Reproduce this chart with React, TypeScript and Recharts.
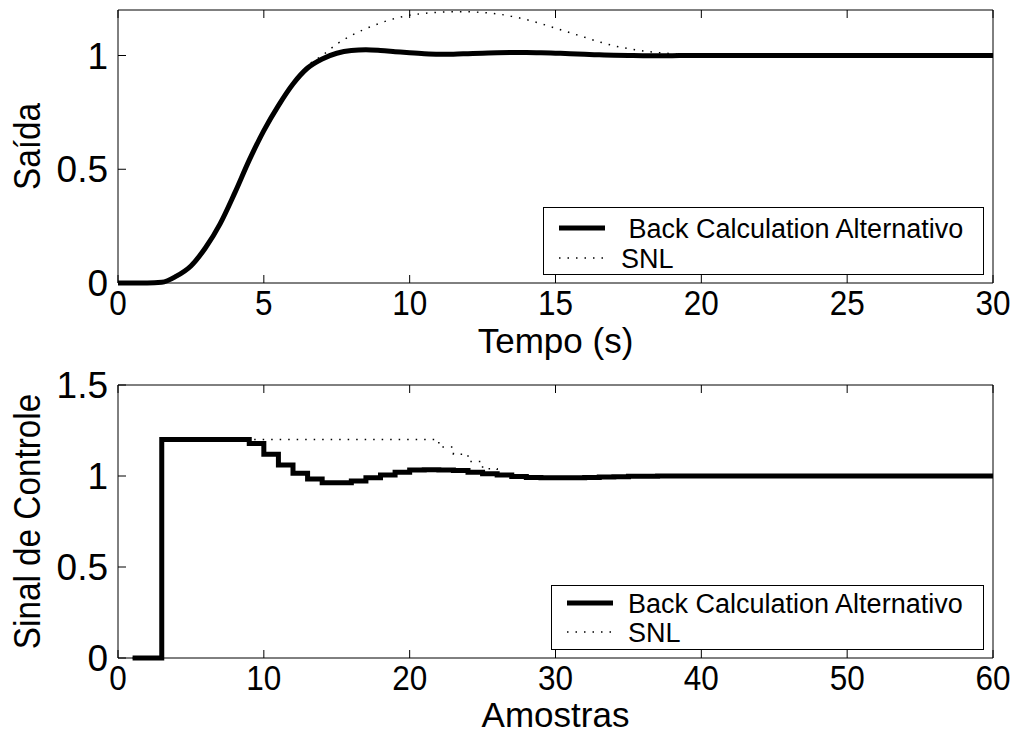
import React from "react";
import { LineChart, Line, XAxis, YAxis, Label } from "recharts";

// top plot: output vs time (s)
const tempo = [
  0, 1, 1.5, 2, 2.5, 3, 3.5, 4, 4.5, 5, 5.5, 6, 6.5, 7, 7.5, 8, 8.5, 9, 9.5,
  10, 10.5, 11, 11.5, 12, 12.5, 13, 13.5, 14, 14.5, 15, 15.5, 16, 16.5, 17,
  17.5, 18, 18.5, 19, 19.5, 20, 21, 22, 24, 26, 28, 30,
];
const saidaBackCalc = [
  0, 0, 0.003, 0.03, 0.075, 0.155, 0.26, 0.395, 0.54, 0.67, 0.78, 0.875,
  0.945, 0.985, 1.01, 1.022, 1.025, 1.022, 1.017, 1.012, 1.008, 1.006, 1.006,
  1.008, 1.01, 1.012, 1.013, 1.013, 1.012, 1.01, 1.008, 1.005, 1.003, 1.001,
  1.0, 0.999, 0.999, 0.999, 1.0, 1.0, 1.0, 1.0, 1.0, 1.0, 1.0, 1.0,
];
const saidaSNL = [
  0, 0, 0.003, 0.03, 0.075, 0.155, 0.26, 0.395, 0.54, 0.67, 0.78, 0.875,
  0.955, 1.0, 1.05, 1.088, 1.118, 1.143, 1.163, 1.177, 1.185, 1.19, 1.192,
  1.192, 1.189, 1.183, 1.172, 1.158, 1.14, 1.12, 1.1, 1.08, 1.06, 1.043, 1.03,
  1.02, 1.013, 1.008, 1.005, 1.003, 1.001, 1.0, 1.0, 1.0, 1.0, 1.0,
];

// bottom plot: control signal vs samples
const amostras = [
  1, 2, 3, 4, 5, 6, 7, 8, 9, 10, 11, 12, 13, 14, 15, 16, 17, 18, 19, 20, 21,
  22, 23, 24, 25, 26, 27, 28, 29, 30, 31, 32, 33, 34, 35, 36, 37, 38, 39, 40,
  41, 42, 43, 44, 45, 46, 47, 48, 49, 50, 51, 52, 53, 54, 55, 56, 57, 58, 59,
  60,
];
const controleBackCalc = [
  0, 0, 1.2, 1.2, 1.2, 1.2, 1.2, 1.2, 1.178, 1.12, 1.06, 1.015, 0.983, 0.963,
  0.963, 0.972, 0.99, 1.005, 1.02, 1.033, 1.035, 1.033, 1.03, 1.02, 1.012,
  1.005, 0.997, 0.992, 0.99, 0.99, 0.99, 0.992, 0.994, 0.996, 0.998, 0.999,
  1, 1, 1, 1, 1, 1, 1, 1, 1, 1, 1, 1, 1, 1, 1, 1, 1, 1, 1, 1, 1, 1, 1, 1,
];
const controleSNL = [
  0, 0, 1.2, 1.2, 1.2, 1.2, 1.2, 1.2, 1.2, 1.2, 1.2, 1.2, 1.2, 1.2, 1.2, 1.2,
  1.2, 1.2, 1.2, 1.2, 1.2, 1.16, 1.12, 1.08, 1.04, 1.01, 0.99, 0.985, 0.983,
  0.983, 0.987, 0.992, 0.996, 0.998, 1, 1, 1, 1, 1, 1, 1, 1, 1, 1, 1, 1, 1, 1,
  1, 1, 1, 1, 1, 1, 1, 1, 1, 1, 1, 1,
];

const topXTicks = [0, 5, 10, 15, 20, 25, 30];
const topYTicks = [0, 0.5, 1];
const bottomXTicks = [0, 10, 20, 30, 40, 50, 60];
const bottomYTicks = [0, 0.5, 1, 1.5];

const FONT = "Liberation Sans, Arial, Helvetica, sans-serif";
const TICK = 8;
const DOTS = "1.5 7";

const topData = tempo.map((t, i) => ({
  t,
  bc: saidaBackCalc[i],
  snl: saidaSNL[i],
}));
const bottomData = amostras.map((k, i) => ({
  k,
  bc: controleBackCalc[i],
  snl: controleSNL[i],
}));

const BottomTick = ({ x, y, payload }: any) => (
  <g>
    <line x1={x} y1={y} x2={x} y2={y - TICK} stroke="#000" strokeWidth={1} />
    <text
      transform={`translate(${x}, ${y + 32}) scale(0.9, 1)`}
      textAnchor="middle"
      fontSize={35}
      fontFamily={FONT}
      fill="#000"
    >
      {payload.value}
    </text>
  </g>
);

const TopTick = ({ x, y }: any) => (
  <line x1={x} y1={y} x2={x} y2={y + TICK} stroke="#000" strokeWidth={1} />
);

const LeftTick = ({ x, y, payload }: any) => (
  <g>
    <line x1={x} y1={y} x2={x + TICK} y2={y} stroke="#000" strokeWidth={1} />
    <text x={x - 10} y={y + 13} textAnchor="end" fontSize={37} fontFamily={FONT} fill="#000">
      {payload.value}
    </text>
  </g>
);

const RightTick = ({ x, y }: any) => (
  <line x1={x} y1={y} x2={x - TICK} y2={y} stroke="#000" strokeWidth={1} />
);

const yLabel = (text: string) => (props: any) => {
  const vb = props.viewBox;
  const cy = vb.y + vb.height / 2;
  return (
    <text
      transform={`translate(40, ${cy}) rotate(-90) scale(0.9, 1)`}
      textAnchor="middle"
      fontSize={37}
      fontFamily={FONT}
      fill="#000"
    >
      {text}
    </text>
  );
};

const xLabel = (text: string, dy: number) => (props: any) => {
  const vb = props.viewBox;
  return (
    <text
      x={vb.x + vb.width / 2}
      y={vb.y + dy}
      textAnchor="middle"
      fontSize={35}
      fontFamily={FONT}
      fill="#000"
    >
      {text}
    </text>
  );
};

function LegendBox({
  left,
  top,
  width,
  height,
  lineLeft,
  textLeft,
  row1,
  row2,
  lead,
}: {
  left: number;
  top: number;
  width: number;
  height: number;
  lineLeft: number;
  textLeft: number;
  row1: number;
  row2: number;
  lead: string;
}) {
  return (
    <svg
      style={{ position: "absolute", left, top }}
      width={width}
      height={height}
    >
      <rect x={0.5} y={0.5} width={width - 1} height={height - 1} fill="#fff" stroke="#000" />
      <line x1={lineLeft} y1={row1} x2={lineLeft + 46} y2={row1} stroke="#000" strokeWidth={5} />
      <text x={textLeft} y={row1 + 10} fontSize={27} fontFamily={FONT} fill="#000" xmlSpace="preserve">
        {lead + "Back Calculation Alternativo"}
      </text>
      <line
        x1={lineLeft}
        y1={row2}
        x2={lineLeft + 46}
        y2={row2}
        stroke="#000"
        strokeWidth={1.5}
        strokeDasharray={DOTS}
      />
      <text x={textLeft} y={row2 + 10} fontSize={27} fontFamily={FONT} fill="#000">
        SNL
      </text>
    </svg>
  );
}

export default function App() {
  return (
    <div
      style={{
        position: "absolute",
        left: 0,
        top: 0,
        width: 1018,
        height: 736,
        background: "#fff",
      }}
    >
      <div style={{ position: "absolute", left: 0, top: 0 }}>
        <LineChart
          width={1018}
          height={360}
          data={topData}
          margin={{ top: 9, right: 24, left: 0, bottom: 0 }}
        >
          <XAxis
            dataKey="t"
            type="number"
            domain={[0, 30]}
            ticks={topXTicks}
            tickSize={0}
            tickMargin={0}
            tickLine={false}
            height={77}
            axisLine={{ stroke: "#000" }}
            tick={<BottomTick />}
            interval={0}
          >
            <Label content={xLabel("Tempo (s)", 70)} />
          </XAxis>
          <XAxis
            xAxisId="top"
            orientation="top"
            dataKey="t"
            type="number"
            domain={[0, 30]}
            ticks={topXTicks}
            tickSize={0}
            tickMargin={0}
            tickLine={false}
            height={1}
            axisLine={{ stroke: "#000" }}
            tick={<TopTick />}
            interval={0}
          />
          <YAxis
            type="number"
            domain={[0, 1.2]}
            ticks={topYTicks}
            tickSize={0}
            tickMargin={0}
            tickLine={false}
            width={118}
            axisLine={{ stroke: "#000" }}
            tick={<LeftTick />}
            interval={0}
          >
            <Label content={yLabel("Saída")} />
          </YAxis>
          <YAxis
            yAxisId="right"
            orientation="right"
            type="number"
            domain={[0, 1.2]}
            ticks={topYTicks}
            tickSize={0}
            tickMargin={0}
            tickLine={false}
            width={1}
            axisLine={{ stroke: "#000" }}
            tick={<RightTick />}
            interval={0}
          />
          <Line
            dataKey="snl"
            type="monotone"
            stroke="#000"
            strokeWidth={1.5}
            strokeDasharray={DOTS}
            dot={false}
            isAnimationActive={false}
          />
          <Line
            dataKey="bc"
            type="monotone"
            stroke="#000"
            strokeWidth={5}
            dot={false}
            isAnimationActive={false}
          />
        </LineChart>
        <LegendBox
          left={543}
          top={207}
          width={441}
          height={68}
          lineLeft={16}
          textLeft={78}
          row1={21}
          row2={51}
          lead=" "
        />
      </div>

      <div style={{ position: "absolute", left: 0, top: 360 }}>
        <LineChart
          width={1018}
          height={376}
          data={bottomData}
          margin={{ top: 24, right: 24, left: 0, bottom: 0 }}
        >
          <XAxis
            dataKey="k"
            type="number"
            domain={[0, 60]}
            ticks={bottomXTicks}
            tickSize={0}
            tickMargin={0}
            tickLine={false}
            height={78}
            axisLine={{ stroke: "#000" }}
            tick={<BottomTick />}
            interval={0}
          >
            <Label content={xLabel("Amostras", 69)} />
          </XAxis>
          <XAxis
            xAxisId="top"
            orientation="top"
            dataKey="k"
            type="number"
            domain={[0, 60]}
            ticks={bottomXTicks}
            tickSize={0}
            tickMargin={0}
            tickLine={false}
            height={1}
            axisLine={{ stroke: "#000" }}
            tick={<TopTick />}
            interval={0}
          />
          <YAxis
            type="number"
            domain={[0, 1.5]}
            ticks={bottomYTicks}
            tickSize={0}
            tickMargin={0}
            tickLine={false}
            width={118}
            axisLine={{ stroke: "#000" }}
            tick={<LeftTick />}
            interval={0}
          >
            <Label content={yLabel("Sinal de Controle")} />
          </YAxis>
          <YAxis
            yAxisId="right"
            orientation="right"
            type="number"
            domain={[0, 1.5]}
            ticks={bottomYTicks}
            tickSize={0}
            tickMargin={0}
            tickLine={false}
            width={1}
            axisLine={{ stroke: "#000" }}
            tick={<RightTick />}
            interval={0}
          />
          <Line
            dataKey="snl"
            type="stepAfter"
            stroke="#000"
            strokeWidth={1.5}
            strokeDasharray={DOTS}
            dot={false}
            isAnimationActive={false}
          />
          <Line
            dataKey="bc"
            type="stepAfter"
            stroke="#000"
            strokeWidth={5}
            dot={false}
            isAnimationActive={false}
          />
        </LineChart>
        <LegendBox
          left={551}
          top={225}
          width={433}
          height={65}
          lineLeft={16}
          textLeft={77}
          row1={18}
          row2={47}
          lead=""
        />
      </div>
    </div>
  );
}
